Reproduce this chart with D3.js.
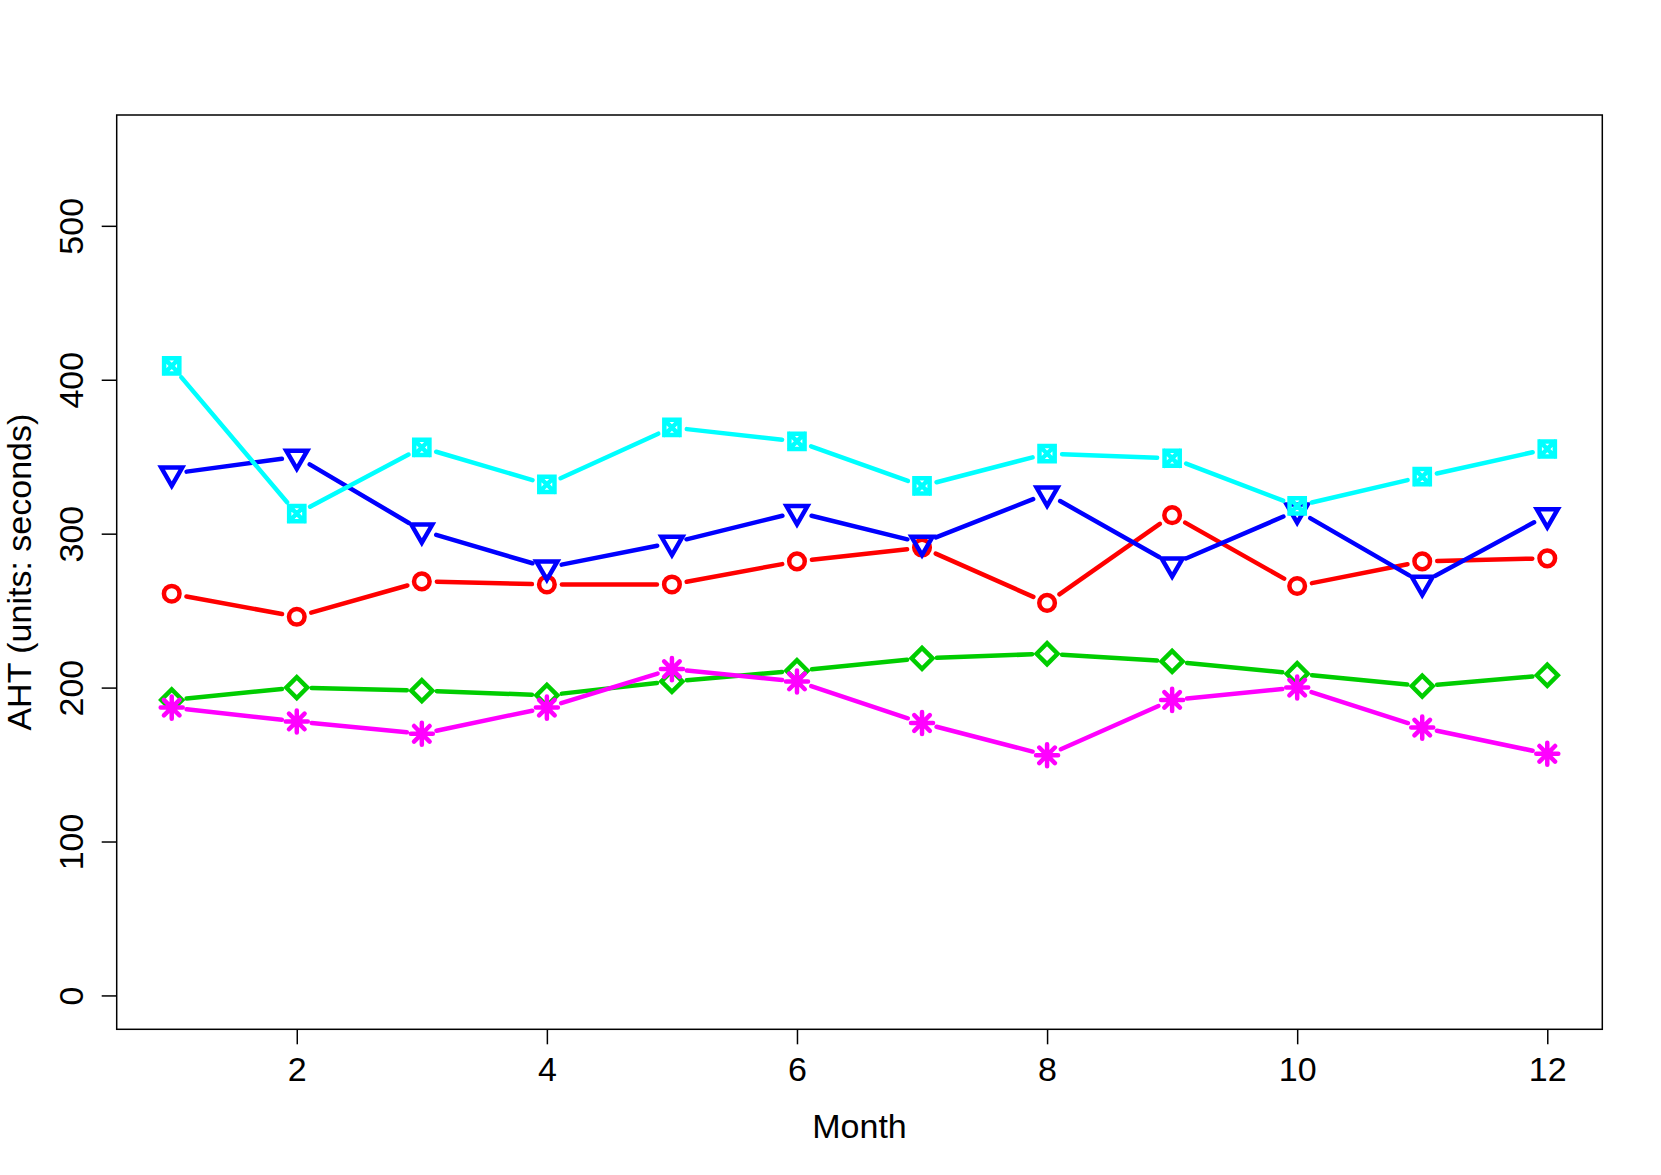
<!DOCTYPE html>
<html>
<head>
<meta charset="utf-8">
<script src="https://cdn.jsdelivr.net/npm/d3@7"></script>
<style>
  body { margin: 0; background: #fff; }
  svg text { font-family: "Liberation Sans", Arial, Helvetica, sans-serif; fill: #000; }
</style>
</head>
<body>
<div class="chart"></div>
<script>
// monthly AHT values
const months = [1, 2, 3, 4, 5, 6, 7, 8, 9, 10, 11, 12];
const redAht = [261, 246, 269, 267, 267, 282, 291, 255, 312, 266, 282, 284];
const greenAht = [192, 200, 198, 195, 204, 211, 219, 222, 217, 209, 201, 208];
const blueAht = [339, 350, 302, 278, 294, 314, 294, 326, 280, 315, 268, 312];
const cyanAht = [409, 313, 356, 332, 369, 360, 331, 352, 349, 318, 337, 355];
const magentaAht = [187, 178, 170, 187, 212, 204, 177, 156, 192, 200, 174, 157];
const xTicks = [2, 4, 6, 8, 10, 12];
const yTicks = [0, 100, 200, 300, 400, 500];

const series = [
    { values: redAht, color: '#ff0000', shape: 'circle' },
    { values: greenAht, color: '#00cd00', shape: 'diamond' },
    { values: blueAht, color: '#0000ff', shape: 'triangle' },
    { values: cyanAht, color: '#00ffff', shape: 'squarex' },
    { values: magentaAht, color: '#ff00ff', shape: 'asterisk' }
];

const svgWidth = 1661;
const svgHeight = 1175;
const box = { left: 116.7, right: 1602.3, top: 115, bottom: 1029.3 };
const R = 7.8;      // symbol radius
const gap = 15;     // type="b" gap around points
const lwd = 4.5;

const svg = d3.select('.chart')
    .append('svg')
    .attr('width', svgWidth)
    .attr('height', svgHeight);

// R style 4% padding on both scales
const x = d3.scaleLinear()
    .domain([1 - 0.44, 12 + 0.44])
    .range([box.left, box.right]);

const y = d3.scaleLinear()
    .domain([-22, 572])
    .range([box.bottom, box.top]);

const xAxis = svg.append('g')
    .attr('transform', `translate(0,${box.bottom})`)
    .call(d3.axisBottom(x).tickValues(xTicks).tickSize(15).tickFormat(d3.format('d')));
xAxis.select('.domain').remove();
xAxis.selectAll('line').attr('stroke', '#000').attr('stroke-width', 1.5);
xAxis.selectAll('text')
    .attr('y', 51.4)
    .attr('dy', null)
    .style('font-size', '34px')
    .style('font-family', '"Liberation Sans", Arial, sans-serif');

const yAxis = svg.append('g')
    .attr('transform', `translate(${box.left},0)`)
    .call(d3.axisLeft(y).tickValues(yTicks).tickSize(15).tickFormat(d3.format('d')));
yAxis.select('.domain').remove();
yAxis.selectAll('line').attr('stroke', '#000').attr('stroke-width', 1.5);
yAxis.selectAll('text')
    .attr('x', null)
    .attr('dy', null)
    .attr('transform', 'translate(-34,0) rotate(-90)')
    .attr('text-anchor', 'middle')
    .style('font-size', '34px')
    .style('font-family', '"Liberation Sans", Arial, sans-serif');

svg.append('rect')
    .attr('x', box.left)
    .attr('y', box.top)
    .attr('width', box.right - box.left)
    .attr('height', box.bottom - box.top)
    .attr('fill', 'none')
    .attr('stroke', '#000')
    .attr('stroke-width', 1.5);

svg.append('text')
    .attr('x', (box.left + box.right) / 2)
    .attr('y', 1138.3)
    .attr('text-anchor', 'middle')
    .style('font-size', '34px')
    .text('Month');

svg.append('text')
    .attr('transform', `translate(31,${(box.top + box.bottom) / 2}) rotate(-90)`)
    .attr('text-anchor', 'middle')
    .style('font-size', '34px')
    .text('AHT (units: seconds)');

const symbolPath = (shape, cx, cy) => {
    if (shape === 'circle') {
        return `M${cx + R},${cy}A${R},${R} 0 1,1 ${cx - R},${cy}A${R},${R} 0 1,1 ${cx + R},${cy}Z`;
    }
    if (shape === 'diamond') {
        const d = Math.SQRT2 * R * 0.95;
        return `M${cx - d},${cy}L${cx},${cy - d}L${cx + d},${cy}L${cx},${cy + d}Z`;
    }
    if (shape === 'triangle') {
        const r = 1.5551 * R, xc = 1.3468 * R, yc = 0.7776 * R;
        return `M${cx},${cy + r}L${cx + xc},${cy - yc}L${cx - xc},${cy - yc}Z`;
    }
    if (shape === 'squarex') {
        const s = 7.6;
        return `M${cx - s},${cy - s}h${2 * s}v${2 * s}h${-2 * s}Z` +
            `M${cx - s},${cy - s}L${cx + s},${cy + s}M${cx + s},${cy - s}L${cx - s},${cy + s}`;
    }
    // asterisk: plus + cross
    const p = Math.SQRT2 * R;
    return `M${cx - p},${cy}H${cx + p}M${cx},${cy - p}V${cy + p}` +
        `M${cx - R},${cy - R}L${cx + R},${cy + R}M${cx + R},${cy - R}L${cx - R},${cy + R}`;
};

series.forEach(s => {
    const pts = months.map((m, i) => [x(m), y(s.values[i])]);
    const g = svg.append('g');

    // segments with gaps around each point
    const segs = [];
    for (let i = 0; i < pts.length - 1; i++) {
        const [x0, y0] = pts[i];
        const [x1, y1] = pts[i + 1];
        const len = Math.hypot(x1 - x0, y1 - y0);
        if (len > 2 * gap) {
            const f = gap / len;
            segs.push([x0 + (x1 - x0) * f, y0 + (y1 - y0) * f, x1 - (x1 - x0) * f, y1 - (y1 - y0) * f]);
        }
    }
    g.selectAll('.seg')
        .data(segs)
        .enter()
        .append('line')
        .attr('x1', d => d[0])
        .attr('y1', d => d[1])
        .attr('x2', d => d[2])
        .attr('y2', d => d[3])
        .attr('stroke', s.color)
        .attr('stroke-width', lwd)
        .attr('stroke-linecap', 'round');

    g.selectAll('.pt')
        .data(pts)
        .enter()
        .append('path')
        .attr('d', d => symbolPath(s.shape, d[0], d[1]))
        .attr('fill', 'none')
        .attr('stroke', s.color)
        .attr('stroke-width', lwd)
        .attr('stroke-linejoin', s.shape === 'circle' ? 'round' : 'miter')
        .attr('stroke-linecap', 'round');
});
</script>
</body>
</html>
